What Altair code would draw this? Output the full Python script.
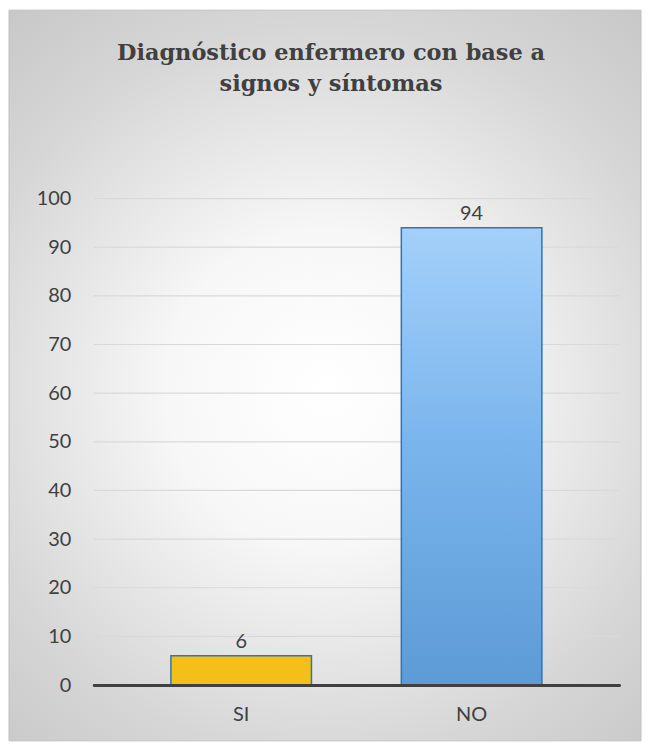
import altair as alt
import pandas as pd

# ---- data ----
categories = ["SI", "NO"]
values = [6, 94]
y_ticks = [0, 10, 20, 30, 40, 50, 60, 70, 80, 90, 100]
title_lines = ["Diagnóstico enfermero con base a", "signos y síntomas"]

df = pd.DataFrame({"cat": categories, "val": values})
ticks_df = pd.DataFrame({"t": y_ticks})
one = pd.DataFrame({"k": [0]})

W, H = 527, 488
TXT = "#404040"
FONT = "Lato"
SERIF = "DejaVu Serif"

x_scale = alt.Scale(domain=categories, paddingInner=0.39, paddingOuter=0.335)
y_scale = alt.Scale(domain=[0, 100], nice=False, zero=True)

y_axis = alt.Axis(values=y_ticks, grid=False, domain=False, ticks=False,
                  labelPadding=23, labelFont=FONT, labelFontSize=20,
                  labelColor=TXT, title=None, zindex=1)
x_axis = alt.Axis(labelAngle=0, domainColor=TXT, domainWidth=3, domainCap="round",
                  ticks=False, labelPadding=20, labelFont=FONT, labelFontSize=20,
                  labelColor=TXT, title=None, zindex=1, grid=False)

# chart background (radial grey gradient, like the Excel chart area)
bg = alt.Chart(one).mark_rect(
    color=alt.RadialGradient(
        gradient="radial", x1=0.5, y1=0.52, r1=0, x2=0.5, y2=0.52, r2=0.72,
        stops=[alt.GradientStop(offset=0, color="#ffffff"),
               alt.GradientStop(offset=0.3, color="#f7f7f7"),
               alt.GradientStop(offset=0.7, color="#d6d6d6"),
               alt.GradientStop(offset=1, color="#c4c4c4")]),
    stroke="#c0c0c0", strokeWidth=1,
).encode(x=alt.value(-85), x2=alt.value(549), y=alt.value(-189), y2=alt.value(544))

title = alt.Chart(one).mark_text(
    font=SERIF, fontSize=22.5, fontWeight="bold", color=TXT,
    align="center", baseline="alphabetic", lineHeight=31,
).encode(x=alt.value(238), y=alt.value(-139), text=alt.value(title_lines))

grid = alt.Chart(ticks_df).mark_rule(color="#d9d9d9", strokeWidth=1.2).encode(
    y=alt.Y("t:Q", scale=y_scale, axis=y_axis)
)

base = alt.Chart(df).encode(
    x=alt.X("cat:N", scale=x_scale, sort=categories, axis=x_axis),
    y=alt.Y("val:Q", scale=y_scale, axis=y_axis),
)

bar_si = base.transform_filter(alt.datum.cat == "SI").mark_bar(
    color="#F5BF19", stroke="#2E75B6", strokeWidth=1.5
)
bar_no = base.transform_filter(alt.datum.cat == "NO").mark_bar(
    color=alt.LinearGradient(
        gradient="linear", x1=0, y1=0, x2=0, y2=1,
        stops=[alt.GradientStop(offset=0, color="#a4d0fa"),
               alt.GradientStop(offset=0.5, color="#78b3ec"),
               alt.GradientStop(offset=1, color="#5d9bd6")]),
    stroke="#2E75B6", strokeWidth=1.5
)

labels = base.mark_text(font=FONT, fontSize=20, color=TXT, baseline="alphabetic", dy=-8).encode(
    text=alt.Text("val:Q")
)

chart = alt.layer(bg, grid, bar_si, bar_no, labels, title).properties(
    width=W, height=H, padding=0, background="#ffffff"
).configure_view(stroke=None)

chart.save("out.html", embed_options={"renderer": "svg", "actions": False})
